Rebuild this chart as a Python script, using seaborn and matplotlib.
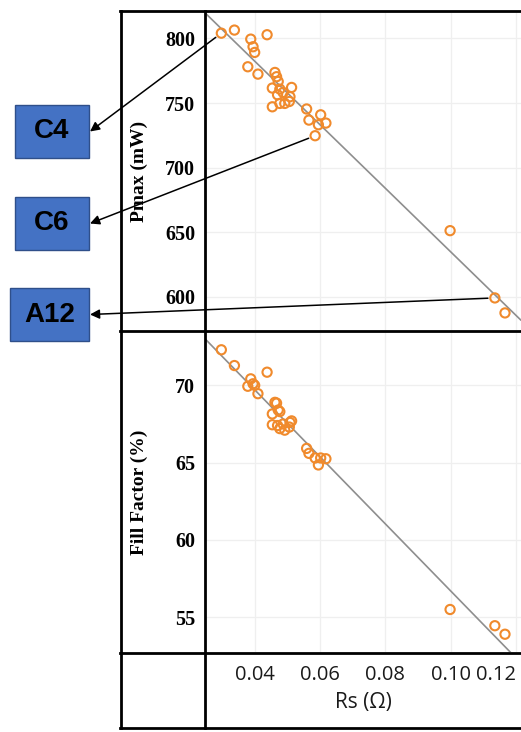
import numpy as np
import pandas as pd
import matplotlib
matplotlib.use("Agg")
import matplotlib.pyplot as plt
from matplotlib.patches import Rectangle
from matplotlib.lines import Line2D
import seaborn as sns

# ---------------- data ----------------
rs = [0.0298, 0.0338, 0.0388, 0.0438, 0.0395, 0.0400, 0.0379, 0.0410,
      0.0462, 0.0467, 0.0472, 0.0454, 0.0477, 0.0513, 0.0470, 0.0487,
      0.0508, 0.0454, 0.0477, 0.0492, 0.0506, 0.0559, 0.0566, 0.0602,
      0.0595, 0.0618, 0.0585, 0.0998, 0.1135, 0.1166]
pmax = [804.1, 806.5, 799.5, 802.9, 793.6, 789.2, 778.1, 772.4,
        773.7, 770.4, 766.7, 761.6, 760.8, 762.1, 756.4, 758.2,
        754.9, 747.1, 749.7, 749.7, 751.2, 745.4, 736.8, 740.9,
        733.2, 734.5, 724.7, 651.2, 599.1, 587.5]
ff = [72.3, 71.28, 70.42, 70.85, 70.1, 70.0, 69.94, 69.46,
      68.9, 68.85, 68.4, 68.15, 68.3, 67.7, 67.4, 67.5,
      67.6, 67.45, 67.2, 67.1, 67.3, 65.92, 65.6, 65.3,
      64.85, 65.25, 65.3, 55.5, 54.45, 53.9]
labels = ["C4", "C6", "A12"]
label_idx = [0, 26, 28]
x_ticks = [0.04, 0.06, 0.08, 0.10, 0.12]
pmax_ticks = [600, 650, 700, 750, 800]
ff_ticks = [55, 60, 65, 70]

df = pd.DataFrame({"Rs": rs, "Pmax": pmax, "FF": ff})

# ---------------- style ----------------
sns.set_theme(style="white")
plt.rcParams["font.family"] = ["DejaVu Sans"]

W, H = 521, 732
fig = plt.figure(figsize=(W / 100, H / 100), dpi=100)


def fx(x):
    return x / W


def fy(y):
    return 1 - y / H


def axrect(x0, y0, x1, y1):
    return [fx(x0), fy(y1), fx(x1) - fx(x0), fy(y0) - fy(y1)]


ax1 = fig.add_axes(axrect(205, 12, 521, 331))
ax2 = fig.add_axes(axrect(205, 332, 521, 652), sharex=ax1)

orange = "#F08A2C"
gray = "#8E8E8E"
serif = ["Liberation Serif", "DejaVu Serif"]
sans = ["Open Sans", "DejaVu Sans"]

xlim = (0.0248, 0.1215)
for ax, col, ticks, ylim, ylab in [
    (ax1, "Pmax", pmax_ticks, (573.5, 820.5), "Pmax (mW)"),
    (ax2, "FF", ff_ticks, (52.75, 73.45), "Fill Factor (%)"),
]:
    ax.set_xlim(*xlim)
    ax.set_ylim(*ylim)
    ax.set_xticks(x_ticks)
    ax.set_yticks(ticks)
    ax.grid(True, color="#EFEFEF", linewidth=0.9)
    ax.set_axisbelow(True)
    sns.regplot(data=df, x="Rs", y=col, ax=ax, scatter=False, ci=None,
                truncate=False, color=gray, line_kws={"linewidth": 1.2})
    sns.scatterplot(data=df, x="Rs", y=col, ax=ax, marker="o", s=44,
                    facecolors="none", edgecolor=orange, linewidth=1.5,
                    zorder=3)
    ax.set_xlim(*xlim)
    ax.set_ylim(*ylim)
    for s in ax.spines.values():
        s.set_visible(False)
    ax.tick_params(axis="y", length=0, pad=7)
    for t in ax.get_yticklabels():
        t.set_fontfamily(serif)
        t.set_fontweight("bold")
        t.set_fontsize(14.5)
        t.set_color("black")
    ax.set_ylabel(ylab, fontfamily=serif, fontweight="bold", fontsize=14,
                  color="black")
    ax.yaxis.set_label_coords(-0.18, 0.5)
    ax.set_xlabel("")

ax1.tick_params(axis="x", length=0, labelbottom=False)
ax2.tick_params(axis="x", length=0, pad=9, labelbottom=True)
tl = ax2.get_xticklabels()
for t in tl:
    t.set_fontfamily(sans)
    t.set_fontsize(14.5)
    t.set_color("#1a1a1a")
tl[-1].set_horizontalalignment("right")
ax2.set_xlabel("Rs (\u03a9)", fontfamily=sans, fontsize=15, color="#1a1a1a")
ax2.xaxis.set_label_coords(0.5, -0.125)

# ---------------- table lines ----------------
lw = 2.0
segs = [
    ((120.5, 11), (120.5, 728)),
    ((204.5, 11), (204.5, 728)),
    ((120, 11.2), (521, 11.2)),
    ((120, 331.5), (521, 331.5)),
    ((120, 652.5), (521, 652.5)),
    ((120, 727.8), (521, 727.8)),
]
for (x0, y0), (x1, y1) in segs:
    fig.add_artist(Line2D([fx(x0), fx(x1)], [fy(y0), fy(y1)],
                          transform=fig.transFigure, color="black",
                          linewidth=lw, solid_capstyle="projecting",
                          zorder=5))

# ---------------- label boxes + arrows ----------------
boxes = [(15, 105, 89, 158), (15, 197, 89, 250), (10, 288, 89, 341)]
for lab, idx, (x0, y0, x1, y1) in zip(labels, label_idx, boxes):
    fig.add_artist(Rectangle((fx(x0), fy(y1)), fx(x1) - fx(x0),
                             fy(y0) - fy(y1), transform=fig.transFigure,
                             facecolor="#4472C4", edgecolor="#2F4F8A",
                             linewidth=1.0, zorder=6))
    fig.text(fx((x0 + x1) / 2), fy((y0 + y1) / 2), lab,
             ha="center", va="center", fontsize=20, fontweight="bold",
             family=["Liberation Sans", "DejaVu Sans"], color="black",
             zorder=7)
    ann = ax1.annotate("", xy=(fx(x1 + 1), fy((y0 + y1) / 2)),
                       xycoords="figure fraction",
                       xytext=(rs[idx], pmax[idx]), textcoords="data",
                       arrowprops=dict(arrowstyle="-|>", color="black",
                                       linewidth=1.1, shrinkA=5, shrinkB=0,
                                       mutation_scale=14),
                       annotation_clip=False, zorder=8)
    ann.set_clip_on(False)

fig.savefig("out.png", dpi=100)
